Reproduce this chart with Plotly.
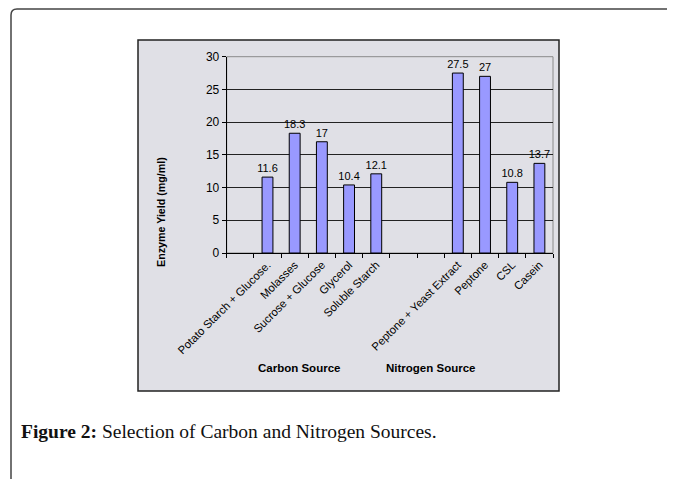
import plotly.graph_objects as go

carbon_labels = ["Potato Starch + Glucose.", "Molasses", "Sucrose + Glucose", "Glycerol", "Soluble Starch"]
carbon_values = [11.6, 18.3, 17, 10.4, 12.1]
nitrogen_labels = ["Peptone + Yeast Extract", "Peptone", "CSL", "Casein"]
nitrogen_values = [27.5, 27, 10.8, 13.7]
y_ticks = [0, 5, 10, 15, 20, 25, 30]

# category sequence with the blank slots seen in the original chart
categories = [" "] + carbon_labels + ["  ", "   "] + nitrogen_labels
values = [None] + carbon_values + [None, None] + nitrogen_values
texts = ["" if v is None else f"{v:g}" for v in values]

# the page body has an 8px default margin; size the figure so it fits the window
OFF = 8
W, H = 675 - OFF, 479 - OFF

def px(x):
    return (x - OFF) / W

def py(y):
    return 1 - (y - OFF) / H

FONT = "Liberation Sans, Arial, sans-serif"

fig = go.Figure()
fig.add_trace(go.Bar(
    x=categories, y=values, text=texts, textposition="outside",
    constraintext="none",
    textfont=dict(family=FONT, size=11, color="#000"),
    marker=dict(color="#9999ff", line=dict(color="#000", width=1)),
    cliponaxis=False, showlegend=False,
))

x0, x1, y0, y1 = 226.7, 553, 56.7, 253

shapes = [
    # outer rounded frame
    dict(type="path", xref="paper", yref="paper",
         path=f"M {px(11)},{py(490)} L {px(11)},{py(15)} Q {px(11)},{py(9)} {px(17)},{py(9)} L {px(700)},{py(9)}",
         line=dict(color="#444", width=1.5), layer="below"),
    # inner chart box
    dict(type="rect", xref="paper", yref="paper", x0=px(138), x1=px(559), y0=py(391), y1=py(40),
         fillcolor="#e0e0e6", line=dict(color="#222", width=1.5), layer="below"),
    # plot area border (gray)
    dict(type="rect", xref="paper", yref="paper", x0=px(x0), x1=px(x1), y0=py(y1), y1=py(y0),
         line=dict(color="#8a8a8a", width=1), layer="below"),
]

annotations = [
    dict(text="<b>Enzyme Yield (mg/ml)</b>", x=px(153), y=py(155), xref="paper", yref="paper",
         textangle=-90, showarrow=False, font=dict(family=FONT, size=10.7, color="#000")),
    dict(text="<b>Carbon Source</b>", x=px(299), y=py(376), xref="paper", yref="paper",
         showarrow=False, font=dict(family=FONT, size=11.5, color="#000")),
    dict(text="<b>Nitrogen Source</b>", x=px(477), y=py(376), xref="paper", yref="paper",
         showarrow=False, font=dict(family=FONT, size=11.5, color="#000")),
    dict(text="<b>Figure 2:</b> Selection of Carbon and Nitrogen Sources.", x=px(19), y=py(431),
         xref="paper", yref="paper", xanchor="left", yanchor="middle", showarrow=False,
         font=dict(family="Liberation Serif, Times New Roman, serif", size=19.5, color="#111")),
]

fig.update_layout(
    template="none",
    width=W, height=H, margin=dict(l=0, r=0, t=0, b=0, pad=0, autoexpand=False),
    paper_bgcolor="white", plot_bgcolor="#c0c0c0",
    bargap=0.6, shapes=shapes, annotations=annotations,
    xaxis=dict(domain=[px(x0), px(x1)], type="category", tickson="boundaries",
               automargin=False,
               ticks="outside", ticklen=4, tickcolor="#000", tickangle=-45,
               showline=True, linecolor="#000", linewidth=1,
               tickfont=dict(family=FONT, size=11.3, color="#000"), showgrid=False),
    yaxis=dict(domain=[py(y1), py(y0)], range=[0, 30], tickvals=y_ticks,
               automargin=False,
               ticks="outside", ticklen=4, tickcolor="#000",
               showline=True, linecolor="#000", linewidth=1,
               gridcolor="#222", gridwidth=1, zeroline=False,
               tickfont=dict(family=FONT, size=12, color="#000")),
)

fig.write_html("out.html")
